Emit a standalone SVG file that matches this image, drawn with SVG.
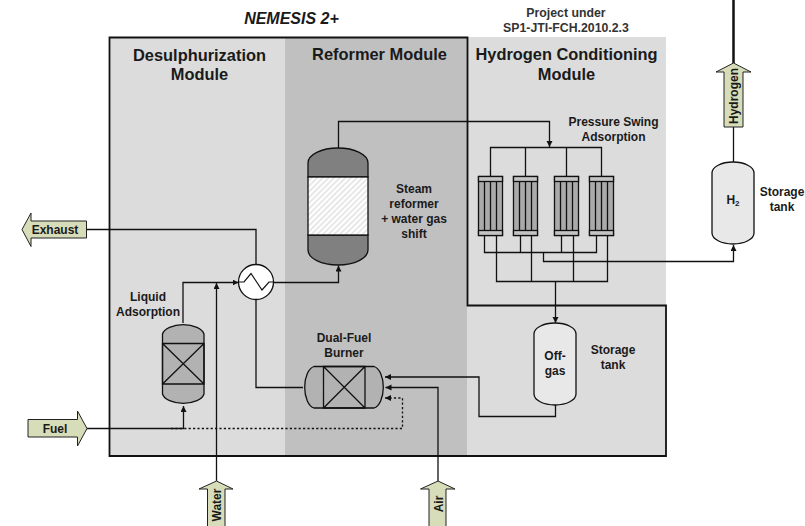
<svg xmlns="http://www.w3.org/2000/svg" width="805" height="526" viewBox="0 0 805 526">
<style>
text{font-family:"Liberation Sans",Arial,sans-serif;font-weight:bold;fill:#1a1a1a;text-anchor:middle}
.h{font-size:16.400px}.s{font-size:12px}.p{font-size:12.300px;fill:#333}.a{font-size:12px}
.ln{fill:none;stroke:#111;stroke-width:1.300}
.ar{marker-end:url(#tip)}
.dot{stroke-dasharray:2.200 2.200}
.v{stroke:#111;stroke-width:1.300}
.flow{fill:#d7dcb9;stroke:#222;stroke-width:1}
.col{fill:#aaa;stroke:#111;stroke-width:1.300}
</style>
<defs>
<marker id="tip" markerUnits="userSpaceOnUse" markerWidth="7" markerHeight="7" refX="6" refY="3" orient="auto"><path d="M0 0L6 3L0 6z" fill="#111"/></marker>
<pattern id="hatch" patternUnits="userSpaceOnUse" width="4" height="4" patternTransform="rotate(-45)"><rect width="4" height="4" fill="#fff"/><line x1="0" y1="2" x2="4" y2="2" stroke="#c4c4c4" stroke-width="0.800"/></pattern>
<g id="psaCol"><rect class="col" x="0" y="0" width="24" height="59"/><rect x="0" y="0" width="24" height="5" fill="#c4c4c4" stroke="#111" stroke-width="1.300"/><rect x="0" y="54" width="24" height="5" fill="#c4c4c4" stroke="#111" stroke-width="1.300"/><path d="M6 5V54M12 5V54M18 5V54" stroke="#111" stroke-width="1.300" fill="none"/></g>
</defs>
<g id="modules">
<rect x="109" y="37" width="176" height="419" fill="#dcdcdc"/>
<rect x="285" y="37" width="182" height="419" fill="#c0c0c0"/>
<rect x="467" y="37" width="199" height="419" fill="#dcdcdc"/>
<path d="M109.500 37.500H467.500V305.500H666V456H109.500z" fill="none" stroke="#111" stroke-width="1.800"/>
<text class="h" x="199.500" y="61">Desulphurization</text><text class="h" x="199.500" y="80">Module</text>
<text class="h" x="379.500" y="60">Reformer Module</text>
<text class="h" x="566.500" y="60">Hydrogen Conditioning</text><text class="h" x="566.500" y="80">Module</text>
</g>
<text x="291.500" y="24" font-size="16" font-style="italic">NEMESIS 2+</text>
<text class="p" x="566" y="17">Project under</text><text class="p" x="566" y="32">SP1-JTI-FCH.2010.2.3</text>
<g id="connectors">
<path class="ln" d="M87 229.500H256V265"/>
<path class="ln ar" d="M183 323V282.500H238.500"/>
<path class="ln ar" d="M216.500 481V283"/>
<path class="ln" d="M256 299.500V387.500H303"/>
<path class="ln ar" d="M273.500 282.500H338.500V265.500"/>
<path class="ln ar" d="M338.500 148V121.500H549.500V147"/>
<path class="ln" d="M490.500 176V147.500H601.500V176M525.500 147.500V176M566.500 147.500V176"/>
<path class="ln" d="M484.500 235V252.500H596.500V235M520.500 235V252.500M561.500 235V252.500"/>
<path class="ln" d="M496.500 235V281.500H607.500V235M531.500 235V281.500M573.500 235V281.500"/>
<path class="ln ar" d="M543.500 252.500V261.500H733.500V245"/>
<path class="ln ar" d="M555.500 281.500V323"/>
<path class="ln" d="M733.500 127V162"/>
<path d="M733.500 0V63" fill="none" stroke="#111" stroke-width="2.500"/>
<path class="ln ar" d="M87 428.500H183.500V406"/>
<path class="ln dot ar" d="M171 428.500H402.500V398H385"/>
<path class="ln ar" d="M438 481V387.500H385.500"/>
<path class="ln ar" d="M555.500 405V416.500H479V377H385"/>
</g>
<g id="exchanger">
<circle cx="256" cy="282" r="17.500" fill="#fff" stroke="#111" stroke-width="1.300"/>
<path d="M238.500 282H244L251 273.500L262 290L269 282H273.500" fill="none" stroke="#111" stroke-width="1.200"/>
</g>
<g id="reformer">
<path class="v" d="M308 163A30 15 0 0 1 368 163V177H308z" fill="#808080"/>
<path class="v" d="M308 250A30 15 0 0 0 368 250V235H308z" fill="#808080"/>
<rect x="308" y="177" width="60" height="58" fill="url(#hatch)" stroke="#111" stroke-width="1.300"/>
<text class="s" x="414" y="193">Steam</text><text class="s" x="414" y="208">reformer</text><text class="s" x="414" y="223">+ water gas</text><text class="s" x="414" y="238">shift</text>
</g>
<g id="psa">
<use href="#psaCol" x="478.500" y="176.500"/><use href="#psaCol" x="513.500" y="176.500"/><use href="#psaCol" x="554.500" y="176.500"/><use href="#psaCol" x="589.500" y="176.500"/>
<text class="s" x="613.500" y="126">Pressure Swing</text><text class="s" x="613.500" y="141">Adsorption</text>
</g>
<g id="h2tank">
<path class="v" d="M712 173A21 11 0 0 1 754 173V233A21 11 0 0 1 712 233z" fill="#e8e8e8"/>
<text class="s" x="733" y="204">H<tspan font-size="8" dy="2">2</tspan></text>
<text class="s" x="782" y="196">Storage</text><text class="s" x="782" y="211">tank</text>
</g>
<g id="adsorber">
<path class="v" d="M162.500 334A21 11 0 0 1 204 334V394A21 11 0 0 1 162.500 394z" fill="#b2b2b2"/>
<path class="v" d="M162.500 343.500H204V384H162.500zM162.500 343.500L204 384M204 343.500L162.500 384" fill="none"/>
<text class="s" x="148" y="301">Liquid</text><text class="s" x="148" y="316">Adsorption</text>
</g>
<g id="burner">
<path class="v" d="M314 366.500H374A11 21 0 0 1 374 408H314A11 21 0 0 1 314 366.500z" fill="#b2b2b2"/>
<path class="v" d="M323.500 366.500H365V408H323.500zM323.500 366.500L365 408M365 366.500L323.500 408" fill="none"/>
<text class="s" x="344" y="342">Dual-Fuel</text><text class="s" x="344" y="357">Burner</text>
</g>
<g id="offgas">
<path class="v" d="M534 334A21 11 0 0 1 576 334V394A21 11 0 0 1 534 394z" fill="#e8e8e8"/>
<text class="s" x="555" y="360">Off-</text><text class="s" x="555" y="375">gas</text>
<text class="s" x="613" y="354">Storage</text><text class="s" x="613" y="369">tank</text>
</g>
<g id="exhaust"><path class="flow" d="M22 229.500L31 213V221H86.500V238H31V246.500z"/><text class="a" x="55" y="233.500">Exhaust</text></g>
<g id="fuel"><path class="flow" d="M28 419.500H77.500V411L87 428.500L77.500 446V437H28z"/><text class="a" x="55" y="433">Fuel</text></g>
<g id="water"><path class="flow" d="M216.500 481L233 489H225V527H207.500V489H199z"/><text class="a" transform="translate(220.500 505) rotate(-90)">Water</text></g>
<g id="air"><path class="flow" d="M438 481L455 489H446V527H429V489H420.500z"/><text class="a" transform="translate(442.500 504) rotate(-90)">Air</text></g>
<g id="hydrogen"><path class="flow" d="M733.500 63L751 72H743V127H724V72H716z"/><text class="a" transform="translate(738 96) rotate(-90)">Hydrogen</text></g>
</svg>
